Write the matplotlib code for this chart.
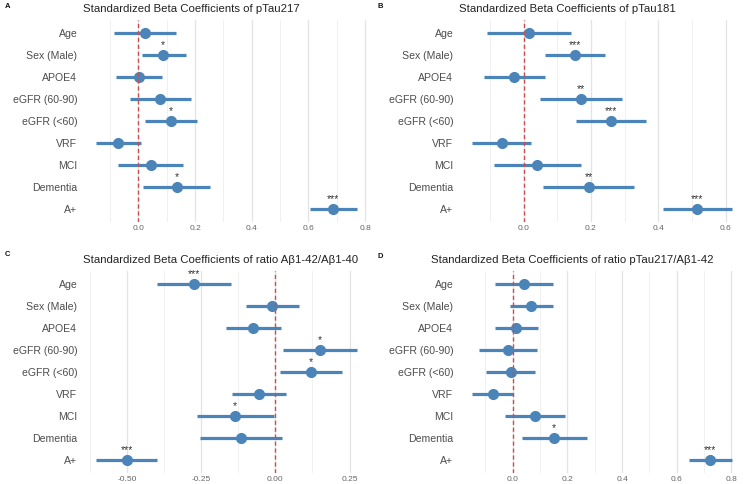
import matplotlib.pyplot as plt
from matplotlib.ticker import MultipleLocator

plt.rcParams['font.family'] = ['Liberation Sans', 'DejaVu Sans']

# ---- data ----
predictors = ["Age", "Sex (Male)", "APOE4", "eGFR (60-90)", "eGFR (<60)",
              "VRF", "MCI", "Dementia", "A+"]

beta_a = [0.024, 0.088, 0.004, 0.078, 0.114, -0.071, 0.044, 0.135, 0.685]
lo_a   = [-0.086, 0.012, -0.079, -0.029, 0.024, -0.149, -0.071, 0.015, 0.604]
hi_a   = [0.132, 0.167, 0.082, 0.186, 0.206, 0.008, 0.156, 0.253, 0.771]
sig_a  = ["", "*", "", "", "*", "", "", "*", "***"]

beta_b = [0.015, 0.153, -0.027, 0.171, 0.259, -0.064, 0.041, 0.193, 0.515]
lo_b   = [-0.109, 0.064, -0.117, 0.050, 0.155, -0.153, -0.087, 0.057, 0.413]
hi_b   = [0.140, 0.243, 0.065, 0.293, 0.363, 0.023, 0.170, 0.329, 0.619]
sig_b  = ["", "***", "", "**", "***", "", "", "**", "***"]

beta_c = [-0.276, -0.010, -0.074, 0.149, 0.120, -0.056, -0.136, -0.116, -0.502]
lo_c   = [-0.399, -0.098, -0.166, 0.027, 0.016, -0.145, -0.266, -0.253, -0.605]
hi_c   = [-0.151, 0.079, 0.019, 0.275, 0.226, 0.034, -0.005, 0.021, -0.398]
sig_c  = ["***", "", "", "*", "*", "", "*", "", "***"]

beta_d = [0.040, 0.068, 0.013, -0.018, -0.007, -0.073, 0.080, 0.152, 0.723]
lo_d   = [-0.066, -0.009, -0.066, -0.124, -0.096, -0.149, -0.030, 0.034, 0.644]
hi_d   = [0.148, 0.148, 0.091, 0.087, 0.083, 0.002, 0.191, 0.271, 0.802]
sig_d  = ["", "", "", "", "", "", "", "*", "***"]

titles = ["Standardized Beta Coefficients of pTau217",
          "Standardized Beta Coefficients of pTau181",
          "Standardized Beta Coefficients of ratio A\u03b21-42/A\u03b21-40",
          "Standardized Beta Coefficients of ratio pTau217/A\u03b21-42"]
letters = ["A", "B", "C", "D"]

W, H = 745, 484
fig = plt.figure(figsize=(W / 100, H / 100), dpi=100)

# axes boxes in pixels: left, top, right, bottom
boxes = [(83, 20, 370, 222), (459, 20, 745, 222),
         (83, 271, 370, 473), (459, 271, 745, 473)]
major = [0.2, 0.2, 0.25, 0.2]
title_x = [83, 459, 83, 431]
title_y = [9, 9, 260, 260]
letter_pos = [(5, 7), (377, 7), (5, 255), (378, 257)]

BLUE = "#4A84B8"
panels = [(beta_a, lo_a, hi_a, sig_a), (beta_b, lo_b, hi_b, sig_b),
          (beta_c, lo_c, hi_c, sig_c), (beta_d, lo_d, hi_d, sig_d)]

for i, (beta, lo, hi, sig) in enumerate(panels):
    l, t, r, b = boxes[i]
    ax = fig.add_axes([l / W, 1 - b / H, (r - l) / W, (b - t) / H])
    ys = list(range(len(predictors)))
    ax.hlines(ys, lo, hi, color=BLUE, lw=2.3, zorder=3)
    ax.plot(beta, ys, "o", color=BLUE, ms=7, zorder=4)
    for y, x, s in zip(ys, beta, sig):
        if s:
            ax.text(x, y - 0.22, s, ha="center", va="bottom", fontsize=7.5,
                    color="#333333", zorder=5)
    ax.axvline(0, color="#CC4C50", lw=1.0, ls=(0, (3, 2)), zorder=6)

    span = max(hi) - min(lo)
    ax.set_xlim(min(lo) - 0.05 * span, max(hi) + 0.05 * span)
    ax.set_ylim(len(predictors) - 0.4, -0.6)
    ax.set_yticks(ys)
    ax.set_yticklabels(predictors)
    ax.xaxis.set_major_locator(MultipleLocator(major[i]))
    ax.xaxis.set_minor_locator(MultipleLocator(major[i] / 2))
    ax.grid(axis="x", which="major", color="#E3E3E3", lw=0.9, zorder=0)
    ax.grid(axis="x", which="minor", color="#EEEEEE", lw=0.6, zorder=0)
    ax.tick_params(axis="x", which="both", length=0, labelsize=6,
                   labelcolor="#666666", pad=2)
    ax.tick_params(axis="y", length=0, labelsize=7.6, labelcolor="#4D4D4D", pad=4)
    if major[i] == 0.25:
        ax.xaxis.set_major_formatter(lambda v, p: f"{v:.2f}")
    else:
        ax.xaxis.set_major_formatter(lambda v, p: f"{v:.1f}")
    for sp in ax.spines.values():
        sp.set_visible(False)
    ax.set_axisbelow(True)

    fig.text(title_x[i] / W, 1 - title_y[i] / H, titles[i], ha="left",
             va="center", fontsize=8.2, color="#222222")
    lx, ly = letter_pos[i]
    fig.text(lx / W, 1 - ly / H, letters[i], ha="left", va="center",
             fontsize=5.5, fontweight="bold", color="#111111")

fig.savefig("out.png", dpi=100)
